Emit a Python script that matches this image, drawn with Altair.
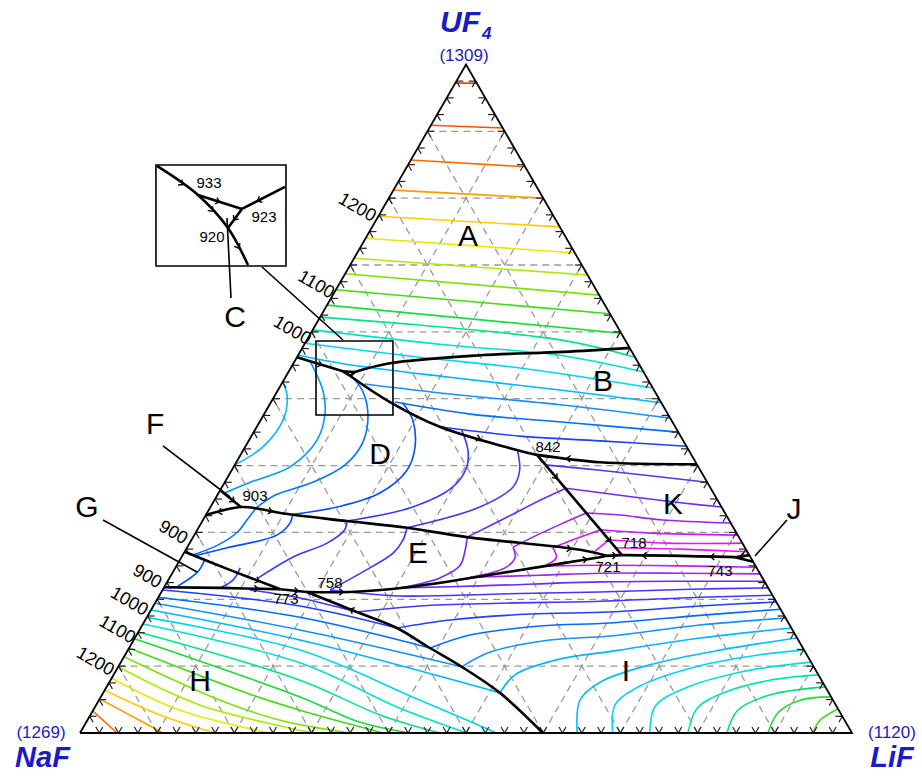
import math
import altair as alt
import pandas as pd

SQ = math.sqrt(3) / 2

# ---------------------------------------------------------------------------
# Liquidus isotherms of the NaF-LiF-UF4 system.
# Each entry: (T in K, [piece, ...]); a piece is a list of (mol% UF4, mol% LiF),
# NaF being the balance. Pieces of one isotherm meet on a field boundary.
# ---------------------------------------------------------------------------
ISO_UF4 = [
    (1300, [[(97.2, 0.0), (97.2, 2.8)]]),
    (1275, [[(90.9, 0.0), (90.5, 9.5)]]),
    (1250, [[(85.7, 0.0), (84.7, 15.3)]]),
    (1225, [[(81.2, 0.0), (80.0, 20.0)]]),
    (1200, [[(77.3, 0.0), (75.7, 24.3)]]),
    (1175, [[(74.0, 0.0), (71.8, 28.2)]]),
    (1150, [[(71.0, 0.0), (68.5, 31.5)]]),
    (1125, [[(68.7, 0.0), (65.5, 34.5)]]),
    (1100, [[(66.3, 0.0), (62.7, 37.3)]]),
    (1075, [[(64.0, 0.0), (59.8, 40.2)]]),
    (1050, [[(62.2, 0.0), (58.8, 32.8), (56.2, 43.8)]]),
    (1025, [[(60.3, 0.0), (58.0, 18.9), (56.5, 33.9), (54.0, 46.0)]]),
    (1000, [[(58.3, 0.0), (56.2, 15.9), (54.6, 29.7), (51.6, 48.4)]]),
    (975, [[(56.5, 0.0), (55.2, 6.7), (53.2, 21.3), (51.3, 36.5), (49.4, 50.6)]]),
]

ISO_B = [
    (950, [[(52.2, 10.8), (50.7, 22.6), (49.1, 37.6), (47.1, 52.9)]]),
    (925, [[(49.5, 16.05), (47.7, 26.7), (46.4, 40.3), (45.0, 55.0)]]),
    (900, [[(45.8, 23.7), (44.4, 34.8), (43.7, 45.5), (42.9, 57.1)]]),
]

ISO_D_E = [
    (980, [[(52.5, 0.0), (50.3, 1.7), (46.8, 2.9), (42.8, 2.3), (40.1, 0.0)]]),
    (955, [[(55.6, 2.0), (51.3, 5.8), (47.9, 7.8), (43.8, 8.8), (39.8, 7.3),
            (37.5, 3.3), (35.9, 0.8)]]),
    (930, [[(54.0, 7.6), (51.3, 10.9), (47.6, 13.5), (43.5, 14.9), (40.1, 14.3),
            (37.5, 11.4), (35.6, 7.5), (33.7, 6.0)],
           [(33.7, 6.0), (31.9, 5.7), (30.1, 5.4), (28.1, 3.8), (26.6, 1.2)]]),
    (905, [[(49.4, 17.1), (46.8, 19.7), (42.8, 22.0), (39.3, 22.7), (35.9, 20.9),
            (33.8, 16.4), (32.7, 11.2)],
           [(32.7, 11.2), (31.4, 11.5), (29.6, 10.7), (27.7, 5.2), (26.5, 1.65)]]),
    (880, [[(45.3, 26.8), (42.3, 29.1), (39.8, 30.2), (36.8, 29.9), (33.8, 26.2),
            (31.7, 18.7)],
           [(31.7, 18.7), (30.4, 19.1), (28.4, 17.8), (26.3, 14.4), (23.2, 11.5)]]),
    (855, [[(42.3, 35.5), (39.3, 37.3), (36.8, 37.7), (33.8, 34.9), (30.7, 27.0)],
           [(30.7, 27.0), (28.9, 27.4), (26.9, 27.1), (24.7, 25.2), (21.4, 21.7)],
           [(21.4, 21.7), (20.5, 31.2), (20.8, 44.0), (21.1, 56.8), (21.5, 68.3),
            (21.7, 78.3)]]),
]

ISO_K = [
    (840, [[(40.1, 40.2), (39.3, 47.7), (37.5, 62.5)]]),
    (825, [[(33.8, 66.2), (34.4, 60.9), (35.3, 54.0), (36.6, 44.65)],
           [(36.6, 44.65), (34.8, 42.2), (32.3, 39.2), (29.3, 35.5)],
           [(29.3, 35.5), (27.4, 36.2), (25.0, 36.7), (23.2, 35.0), (21.7, 30.6)],
           [(21.7, 30.6), (22.0, 40.8), (22.6, 56.1), (22.7, 67.7), (22.7, 77.3)]]),
    (800, [[(31.4, 68.6), (31.9, 59.2), (32.6, 53.65), (32.9, 49.1)],
           [(32.9, 49.1), (31.4, 46.9), (29.3, 44.0), (27.8, 42.2)],
           [(27.8, 42.2), (26.2, 43.25), (24.7, 42.7), (23.3, 38.9)],
           [(23.3, 38.9), (23.6, 47.8), (23.9, 55.4), (23.9, 65.8), (23.8, 76.2)]]),
    (775, [[(29.6, 70.4), (29.9, 58.9), (30.4, 52.3)],
           [(30.4, 52.3), (28.9, 49.4), (27.7, 47.4)],
           [(27.7, 47.4), (26.2, 48.6), (25.0, 47.7)],
           [(25.0, 47.7), (25.1, 54.8), (25.0, 65.2), (24.8, 75.2)]]),
    (755, [[(27.2, 53.1), (28.9, 54.1)], [(28.9, 54.1), (28.4, 61.8), (28.4, 71.6)]]),
    (740, [[(27.7, 55.45), (27.5, 63.97), (27.1, 72.9)]]),
]

ISO_G = [
    (910, [[(25.9, 3.2), (24.1, 3.2), (22.0, 1.7)]]),
    (890, [[(24.7, 8.4), (22.9, 8.4), (21.7, 7.3)]]),
]

# isotherms crossing from the NaF field into the LiF field
ISO_H_I = [
    (868, [[(21.4, 11.3), (20.2, 18.4), (18.1, 26.8)],
           [(18.1, 26.8), (19.0, 34.5), (19.4, 44.7), (19.7, 57.5), (20.3, 70.2), (20.6, 79.4)]]),
    (900, [[(21.4, 0.0), (19.0, 19.0), (15.7, 33.2)],
           [(15.7, 33.2), (16.9, 39.5), (17.8, 49.4), (18.1, 59.6), (19.0, 70.8), (19.6, 80.4)]]),
    (925, [[(20.3, 0.0), (17.3, 19.85), (12.7, 39.0)],
           [(12.7, 39.0), (14.65, 43.2), (16.0, 51.6), (16.45, 60.45), (17.6, 71.5), (18.5, 81.5)]]),
    (950, [[(19.4, 0.0), (15.4, 20.8), (9.9, 44.5)],
           [(9.9, 44.5), (12.1, 47.1), (13.9, 53.9), (14.5, 61.4), (16.15, 72.2), (17.2, 82.8)]]),
    (975, [[(18.4, 0.0), (13.9, 21.55), (6.0, 51.4)],
           [(6.0, 51.4), (8.7, 52.0), (10.9, 56.1), (12.4, 63.75), (14.2, 73.2), (15.7, 84.3)]]),
]

ISO_NAF = [
    (1000, [[(17.3, 0.0), (12.4, 22.3), (4.9, 41.6), (0.0, 54.0)]]),
    (1025, [[(16.3, 0.0), (10.5, 23.25), (3.7, 39.6), (0.0, 50.1)]]),
    (1050, [[(15.1, 0.0), (7.9, 24.55), (2.7, 37.5), (0.0, 46.6)]]),
    (1075, [[(14.1, 0.0), (5.4, 25.8), (1.6, 35.5), (0.0, 42.7)]]),
    (1100, [[(12.7, 0.0), (5.8, 19.1), (3.4, 26.8), (0.0, 39.25)]]),
    (1125, [[(11.4, 0.0), (4.9, 15.7), (1.9, 25.0), (0.0, 35.0)]]),
    (1150, [[(9.9, 0.0), (4.2, 13.4), (0.0, 30.2)]]),
    (1175, [[(8.2, 0.0), (3.4, 11.25), (0.0, 24.6)]]),
    (1200, [[(6.4, 0.0), (2.7, 9.0), (0.0, 17.5)]]),
    (1225, [[(5.1, 0.0), (0.0, 10.75)]]),
    (1250, [[(3.3, 0.0), (0.0, 4.8)]]),
]

ISO_LIF = [
    (980, [[(0.0, 64.4), (4.9, 62.3), (7.6, 63.56), (10.2, 68.7), (12.4, 76.7), (14.2, 85.8)]]),
    (1000, [[(0.0, 69.0), (4.2, 67.2), (7.0, 69.0), (9.7, 74.2), (11.7, 82.2), (12.4, 87.6)]]),
    (1020, [[(0.0, 73.8), (4.0, 72.5), (6.7, 75.0), (9.1, 80.9), (10.6, 89.4)]]),
    (1040, [[(0.0, 78.76), (3.7, 78.1), (6.1, 80.5), (7.9, 85.4), (8.7, 91.3)]]),
    (1060, [[(0.0, 83.8), (3.4, 83.5), (5.7, 86.5), (6.9, 93.1)]]),
    (1080, [[(0.0, 89.1), (3.0, 88.9), (4.9, 90.8), (5.4, 94.6)]]),
    (1100, [[(0.0, 94.95), (1.9, 94.9), (3.6, 96.4)]]),
]

# invariant points (mol% UF4, mol% LiF)
P933, P923, P920 = (54.1, 7.0), (54.0, 8.6), (53.4, 8.3)
P842, P903 = (41.6, 38.4), (33.8, 3.95)
P721, P718, P743 = (26.5, 55.0), (26.6, 56.9), (26.3, 71.7)
P773, P758 = (21.5, 15.2), (21.1, 18.85)

# field boundaries (univariant lines)
BOUNDARIES = [
    [(56.2, 0.0), P933],
    [P933, P923],
    [P923, (55.3, 12.5), (56.5, 23.6), (57.0, 34.1), (57.6, 42.4)],
    [P923, P920],
    [P933, P920],
    [P920, (49.5, 15.4), (45.8, 23.7), (42.6, 34.4), P842],
    [P842, (40.5, 47.1), (40.2, 59.8)],
    [P842, P718],
    [(32.6, 0.0), P903, (33.5, 6.6), (32.9, 9.5), (31.7, 18.7), (30.7, 27.0),
     (29.3, 35.5), (27.4, 51.1), P721],
    [(36.3, 0.0), P903],
    [P721, P718, P743],
    [P743, (26.6, 73.4)],
    [P743, (25.6, 74.4)],
    [(21.8, 0.0), (21.7, 7.3), P773],
    [(27.1, 0.0), (24.4, 7.2), P773],
    [P773, P758],
    [P758, (21.1, 24.4), (21.8, 31.5), (23.9, 42.45), (26.3, 54.2), P721],
    [P758, (18.1, 26.8), (15.7, 33.2), (12.9, 38.6), (9.9, 44.5), (6.0, 51.4), (0.0, 59.97)],
]

# direction of falling temperature along boundaries: (from, to, position fraction)
ARROWS = [
    ((45.8, 23.7), (42.6, 34.4), 0.55),
    ((40.5, 47.1), P842, 0.5),
    (P842, P718, 0.22), (P842, P718, 0.85),
    (P903, (32.6, 0.0), 0.6),
    ((33.5, 6.6), (32.9, 9.5), 0.5),
    ((29.3, 35.5), (27.4, 51.1), 0.9),
    ((36.3, 0.0), P903, 0.6),
    (P721, P718, 0.5),
    (P743, P718, 0.2), (P743, P718, 0.8),
    ((26.6, 73.4), P743, 0.5),
    ((21.7, 7.3), P773, 0.6),
    ((24.4, 7.2), P773, 0.55),
    (P773, P758, 0.6),
    (P758, (21.1, 24.4), 0.8),
    ((23.9, 42.45), (26.3, 54.2), 0.85),
    ((18.1, 26.8), P758, 0.1),
    ((56.2, 0.0), P933, 0.5),
]

TEMP_STOPS = [720, 750, 775, 800, 825, 850, 900, 950, 1000, 1040, 1075, 1100,
              1150, 1175, 1200, 1225, 1250, 1300]
TEMP_COLORS = ["#ff00ff", "#e21cf2", "#c21ef0", "#9a24f0", "#6e2cf2", "#4a34f6",
               "#2040ff", "#1490ff", "#00d6f0", "#00e6a8", "#18dc3c", "#3cdc10",
               "#a8ec00", "#e8e800", "#ffcc00", "#ff9a00", "#ff6a00", "#ff2a10"]

# ---------------------------------------------------------------------------
# annotation layout, in the triangle's cartesian frame (NaF=(0,0), LiF=(1,0))
# ---------------------------------------------------------------------------
FIELD_LABELS = [("A", 0.5026, 0.6425), ("B", 0.6775, 0.4547), ("C", 0.2008, 0.5376),
                ("D", 0.3886, 0.3601), ("E", 0.4378, 0.2319), ("F", 0.0972, 0.3990),
                ("G", 0.0091, 0.2915), ("H", 0.1554, 0.0661), ("I", 0.7073, 0.0790),
                ("J", 0.9249, 0.2889), ("K", 0.7681, 0.2953)]
POINT_LABELS = [("933", 0.1671, 0.7124), ("923", 0.2383, 0.6684), ("920", 0.1710, 0.6425),
                ("842", 0.6062, 0.3705), ("903", 0.2267, 0.3070), ("718", 0.7176, 0.2461),
                ("721", 0.6839, 0.2150), ("743", 0.8290, 0.2098), ("758", 0.3238, 0.1943),
                ("773", 0.2668, 0.1736)]
EDGE_LABELS = [("1200", 0.3588, 0.6801), ("1100", 0.3057, 0.5803), ("1000", 0.2746, 0.5207),
               ("900", 0.1205, 0.2591), ("900", 0.0868, 0.2021), ("1000", 0.0635, 0.1697),
               ("1100", 0.0479, 0.1334), ("1200", 0.0194, 0.0920)]
POINTERS = [((0.1075, 0.3718), (0.1943, 0.3057)),   # F
            ((0.0298, 0.2759), (0.1516, 0.2085)),   # G
            ((0.8744, 0.2293), (0.9158, 0.2759)),   # J
            ((0.2358, 0.6036), (0.3407, 0.5091)),   # inset connector
            ((0.1904, 0.6671), (0.1956, 0.5635))]   # C
INSET_BOX = (0.0984, 0.6049, 0.2668, 0.7358)
DETAIL_BOX = (0.3057, 0.4119, 0.4054, 0.5078)
INSET_LINES = [[(0.0997, 0.7345), (0.1528, 0.6969), (0.1917, 0.6541), (0.2176, 0.6062)],
               [(0.1528, 0.6969), (0.2098, 0.6788)],
               [(0.2098, 0.6788), (0.2655, 0.7073)],
               [(0.2098, 0.6788), (0.1917, 0.6541)]]
INSET_ARROWS = [((0.0997, 0.7345), (0.1528, 0.6969), 0.6),
                ((0.1528, 0.6969), (0.2098, 0.6788), 0.45),
                ((0.2655, 0.7073), (0.2098, 0.6788), 0.6),
                ((0.2098, 0.6788), (0.1917, 0.6541), 0.5),
                ((0.1528, 0.6969), (0.1917, 0.6541), 0.45),
                ((0.1917, 0.6541), (0.2176, 0.6062), 0.5)]

BLUE = "#1a1ac8"
FONT = "Liberation Sans"


def to_xy(u, l):
    return (l + u / 2) / 100.0, u * SQ / 100.0


# ---------------------------------------------------------------------------
rows = []
groups = [ISO_UF4, ISO_B, ISO_D_E, ISO_K, ISO_G, ISO_H_I, ISO_NAF, ISO_LIF]
for gi, grp in enumerate(groups):
    for ii, (temp, pieces) in enumerate(grp):
        for pi, piece in enumerate(pieces):
            for k, (u, l) in enumerate(piece):
                x, y = to_xy(u, l)
                rows.append(dict(piece=f"{gi}-{ii}-{pi}", seq=k, T=temp, X=x, Y=y))
iso_df = pd.DataFrame(rows)

brow = []
for bi, curve in enumerate(BOUNDARIES):
    for k, (u, l) in enumerate(curve):
        x, y = to_xy(u, l)
        brow.append(dict(piece=f"b{bi}", seq=k, X=x, Y=y))
for ii, curve in enumerate(INSET_LINES):
    for k, (x, y) in enumerate(curve):
        brow.append(dict(piece=f"i{ii}", seq=k, X=x, Y=y))
bnd_df = pd.DataFrame(brow)


def arrow_row(p, q, f):
    x = p[0] + f * (q[0] - p[0])
    y = p[1] + f * (q[1] - p[1])
    ang = math.degrees(math.atan2(-(q[1] - p[1]), q[0] - p[0])) % 360
    return dict(X=x, Y=y, ang=ang)


arows = [arrow_row(to_xy(*a), to_xy(*b), f) for a, b, f in ARROWS]
arows += [arrow_row(a, b, f) for a, b, f in INSET_ARROWS]
arrow_df = pd.DataFrame(arows)

# dashed composition grid every 10 mol%
grid = []
for k in range(1, 10):
    v = 10 * k
    for a, b in [((v, 0), (v, 100 - v)), ((0, v), (100 - v, v)), ((0, 100 - v), (100 - v, 0))]:
        x1, y1 = to_xy(*a)
        x2, y2 = to_xy(*b)
        grid.append(dict(X=x1, Y=y1, X2=x2, Y2=y2))
grid_df = pd.DataFrame(grid)

# chevron ticks every 2.5 mol% on each side
TICK = 0.9
ticks = []
for k in range(1, 40):
    t = 2.5 * k
    for p, q1, q2 in [((0, t), (TICK, t), (TICK, t - TICK)),
                      ((t, 0), (t, TICK), (t - TICK, TICK)),
                      ((t, 100 - t), (t, 100 - t - TICK), (t - TICK, 100 - t))]:
        x0, y0 = to_xy(*p)
        for q in (q1, q2):
            x1, y1 = to_xy(*q)
            ticks.append(dict(X=x0, Y=y0, X2=x1, Y2=y1))
tick_df = pd.DataFrame(ticks)

tri = []
for k, (u, l) in enumerate([(0, 0), (0, 100), (100, 0), (0, 0)]):
    x, y = to_xy(u, l)
    tri.append(dict(seq=k, X=x, Y=y))
tri_df = pd.DataFrame(tri)

ptr_df = pd.DataFrame([dict(X=a[0], Y=a[1], X2=b[0], Y2=b[1]) for a, b in POINTERS])

# ---------------------------------------------------------------------------
XS = alt.Scale(domain=[-80 / 772, 842 / 772], nice=False, zero=False)
YS = alt.Scale(domain=[-43 / 772, 733 / 772], nice=False, zero=False)
xe = alt.X("X:Q", scale=XS, axis=None)
ye = alt.Y("Y:Q", scale=YS, axis=None)

grid_layer = alt.Chart(grid_df).mark_rule(
    color="#9a9a9a", strokeWidth=1.3, strokeDash=[7, 5]
).encode(x=xe, y=ye, x2="X2:Q", y2="Y2:Q")

iso_layer = alt.Chart(iso_df).mark_line(
    strokeWidth=1.6, interpolate="catmull-rom"
).encode(
    x=xe, y=ye, detail="piece:N", order="seq:Q",
    color=alt.Color("T:Q", scale=alt.Scale(domain=TEMP_STOPS, range=TEMP_COLORS), legend=None),
)

tick_layer = alt.Chart(tick_df).mark_rule(color="#222", strokeWidth=1.2).encode(
    x=xe, y=ye, x2="X2:Q", y2="Y2:Q")

tri_layer = alt.Chart(tri_df).mark_line(color="black", strokeWidth=1.8).encode(
    x=xe, y=ye, order="seq:Q")

bnd_layer = alt.Chart(bnd_df).mark_line(
    color="black", strokeWidth=2.6, interpolate="catmull-rom"
).encode(x=xe, y=ye, detail="piece:N", order="seq:Q")

arrow_layer = alt.Chart(arrow_df).mark_point(
    shape="M-0.5,-0.85L0.5,0L-0.5,0.85", filled=False, color="black",
    strokeWidth=1.4, size=60, opacity=1
).encode(x=xe, y=ye, angle=alt.Angle("ang:Q", scale=None))

box_df = pd.DataFrame([
    dict(X=INSET_BOX[0], Y=INSET_BOX[1], X2=INSET_BOX[2], Y2=INSET_BOX[3], kind="inset"),
    dict(X=DETAIL_BOX[0], Y=DETAIL_BOX[1], X2=DETAIL_BOX[2], Y2=DETAIL_BOX[3], kind="detail"),
])
box_layer = alt.Chart(box_df).mark_rect(
    fillOpacity=0, stroke="black", strokeWidth=1.6
).encode(x=xe, y=ye, x2="X2:Q", y2="Y2:Q")

ptr_layer = alt.Chart(ptr_df).mark_rule(color="black", strokeWidth=1.6).encode(
    x=xe, y=ye, x2="X2:Q", y2="Y2:Q")


def text_layer(items, **kw):
    df = pd.DataFrame([dict(label=t, X=x, Y=y) for t, x, y in items])
    return alt.Chart(df).mark_text(font=FONT, **kw).encode(x=xe, y=ye, text="label:N")


field_txt = text_layer(FIELD_LABELS, fontSize=30, color="black")
point_txt = text_layer(POINT_LABELS, fontSize=15, color="black")
edge_txt = text_layer(EDGE_LABELS, fontSize=18, color="black", angle=30)

name_txt = text_layer([("NaF", -0.0486, -0.0440), ("LiF", 1.0518, -0.0440)],
                      fontSize=29, fontWeight="bold", fontStyle="italic", color=BLUE,
                      baseline="alphabetic")
uf_txt = text_layer([("UF", 0.5181, 0.9080)], fontSize=30, fontWeight="bold",
                    fontStyle="italic", color=BLUE, align="right", baseline="alphabetic")
sub_txt = text_layer([("4", 0.5207, 0.8990)], fontSize=17, fontWeight="bold",
                     fontStyle="italic", color=BLUE, align="left", baseline="alphabetic")
mp_txt = text_layer([("(1309)", 0.4974, 0.8769), ("(1269)", -0.0505, 0.0000),
                     ("(1120)", 1.0518, 0.0000)], fontSize=17, color=BLUE)

chart = alt.layer(
    grid_layer, iso_layer, tick_layer, tri_layer, bnd_layer, arrow_layer,
    box_layer, ptr_layer, field_txt, point_txt, edge_txt,
    name_txt, uf_txt, sub_txt, mp_txt,
).properties(
    width=922, height=776, padding=0,
    autosize=alt.AutoSizeParams(type="none"),
).configure_view(strokeWidth=0)

chart.save("out.html", embed_options={"renderer": "svg", "actions": False})
